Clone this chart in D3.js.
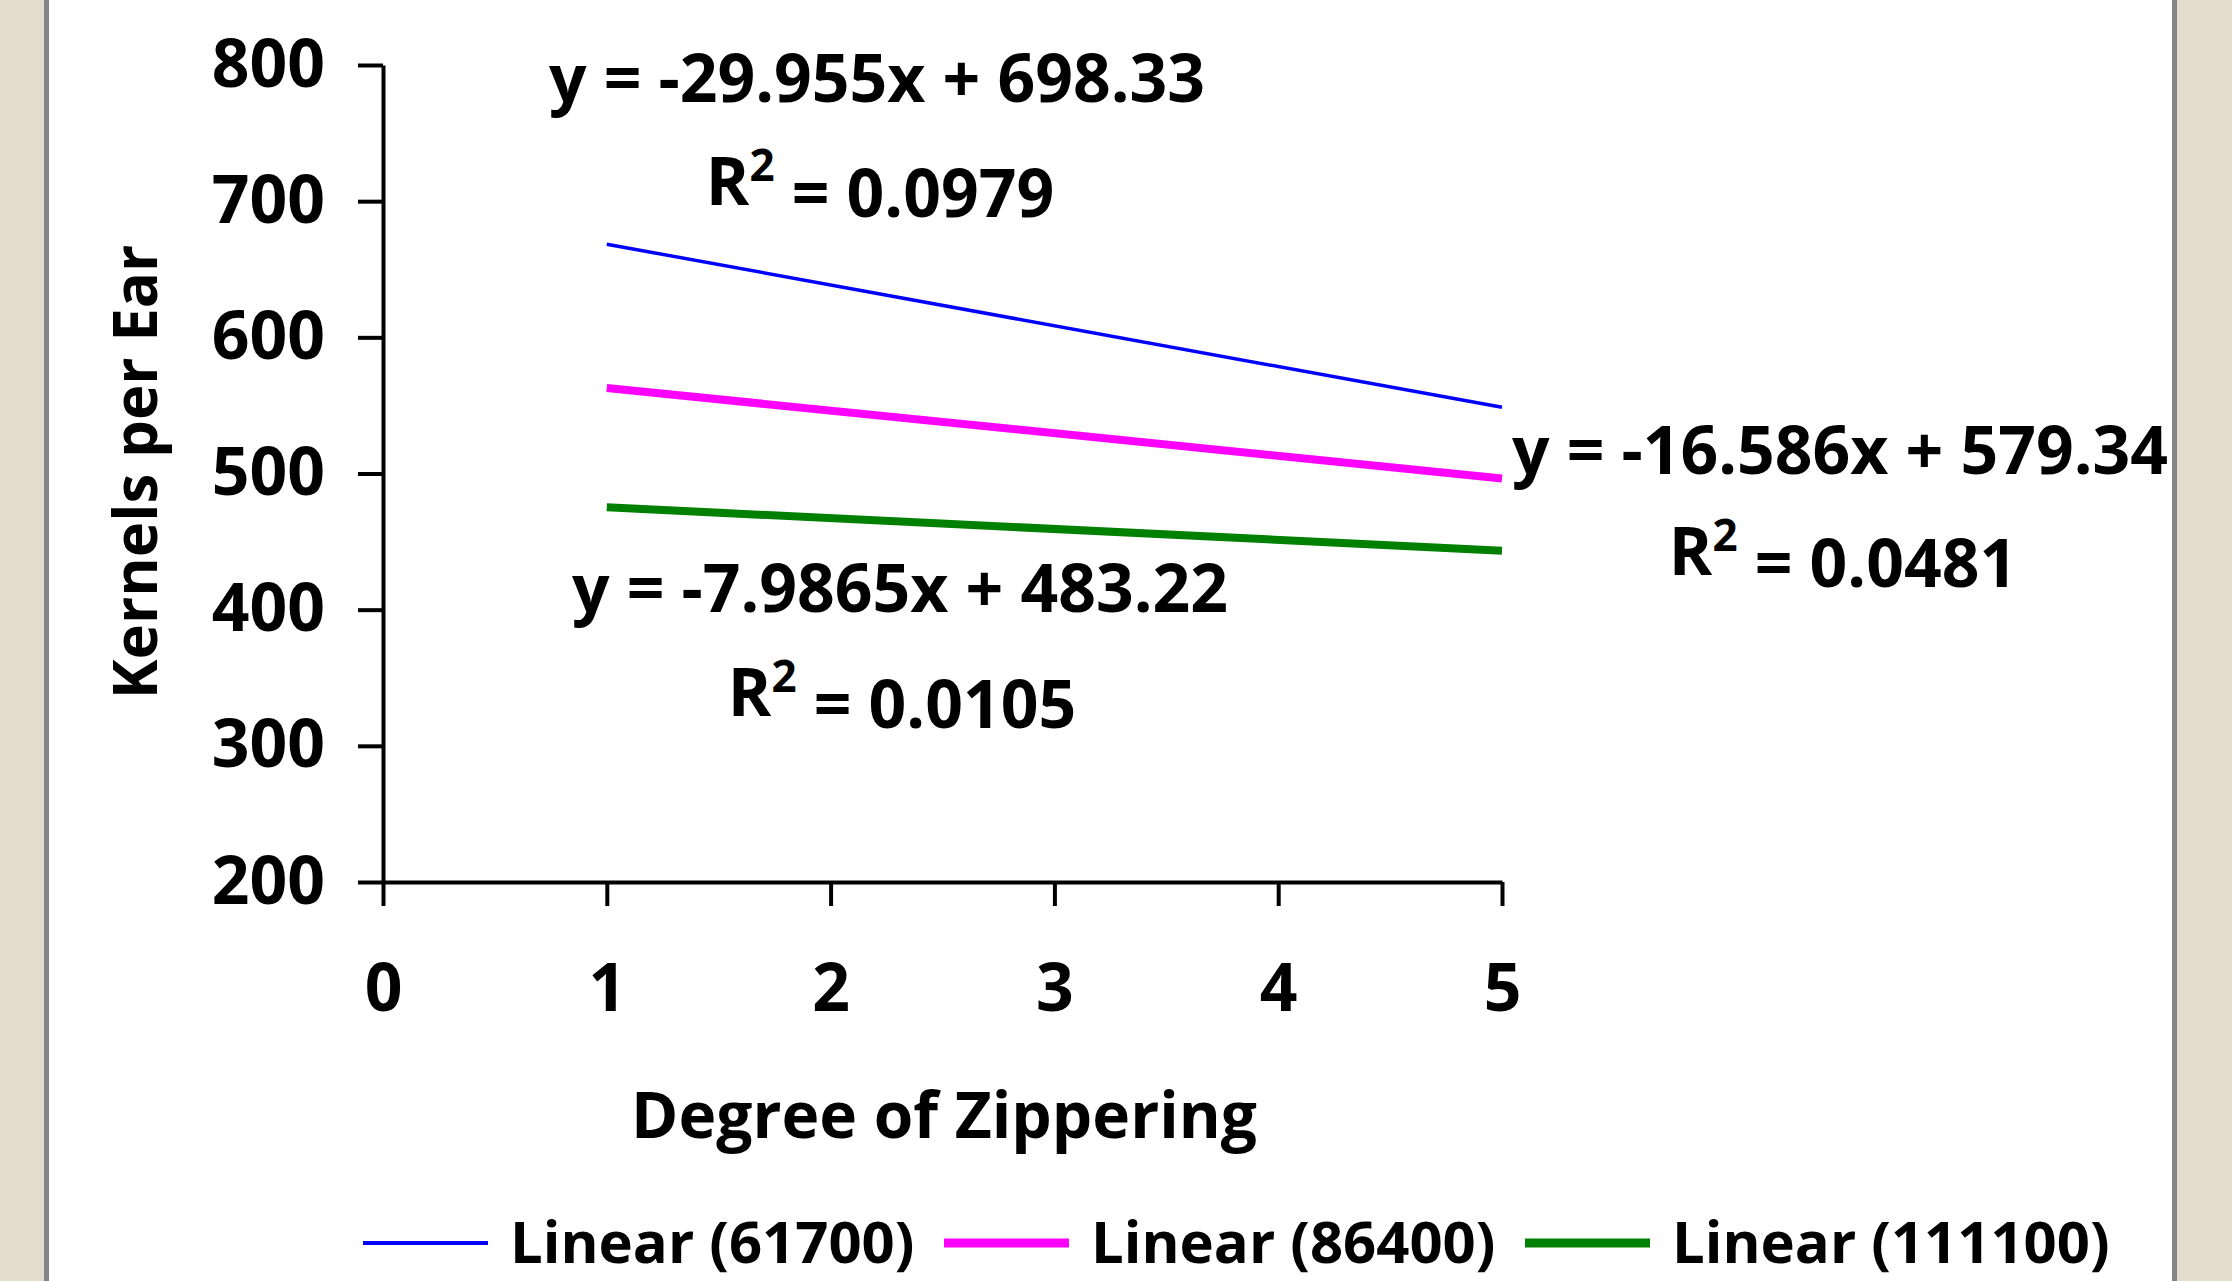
<!DOCTYPE html>
<html>
<head>
<meta charset="utf-8">
<script src="https://cdn.jsdelivr.net/npm/d3@7"></script>
<style>
  body { margin: 0; background: #ffffff; }
  text { font-family: "Open Sans", sans-serif; font-weight: bold; fill: #000; }
</style>
</head>
<body>
<script>
// chart data
var seriesNames = ["Linear (61700)", "Linear (86400)", "Linear (111100)"];
var seriesColors = ["#0000ff", "#ff00ff", "#008000"];
var trendX = [1, 5];
var blueValues = [668.4, 548.6];
var magentaValues = [562.8, 496.4];
var greenValues = [475.2, 443.3];
var equations = ["y = -29.955x + 698.33", "y = -16.586x + 579.34", "y = -7.9865x + 483.22"];
var rSquared = ["0.0979", "0.0481", "0.0105"];
var xTicks = [0, 1, 2, 3, 4, 5];
var yTicks = [200, 300, 400, 500, 600, 700, 800];

var w = 2232, h = 1281;

var svg = d3.select("body").append("svg")
    .attr("width", w)
    .attr("height", h)
    .attr("class", "container");

// beige side strips with grey frame lines
svg.append("rect").attr("x", 0).attr("y", 0).attr("width", 45).attr("height", h).style("fill", "#e4dccf");
svg.append("rect").attr("x", 44).attr("y", 0).attr("width", 5).attr("height", h).style("fill", "#858585");
svg.append("rect").attr("x", 2177).attr("y", 0).attr("width", 55).attr("height", h).style("fill", "#e4dccf");
svg.append("rect").attr("x", 2172).attr("y", 0).attr("width", 5).attr("height", h).style("fill", "#858585");

var x = d3.scaleLinear().domain([0, 5]).range([383, 1502]);
var y = d3.scaleLinear().domain([200, 800]).range([882, 65]);

// axes
var yAxis = svg.append("g")
    .attr("class", "y-axis")
    .attr("transform", "translate(" + x(0) + ",0)")
    .call(d3.axisLeft(y).tickValues(yTicks).tickSize(25).tickSizeOuter(0).tickPadding(33));

var xAxis = svg.append("g")
    .attr("class", "x-axis")
    .attr("transform", "translate(0," + y(200) + ")")
    .call(d3.axisBottom(x).tickValues(xTicks).tickFormat(d3.format("d")).tickSize(24).tickSizeOuter(0).tickPadding(58));

svg.selectAll(".domain, .tick line").style("stroke", "#000").style("stroke-width", 4);
svg.selectAll(".tick text").style("font-size", "66px").style("font-family", "'Open Sans', sans-serif").style("font-weight", "bold");

// trend lines
var line = d3.line()
    .x(function(d){ return x(d[0]); })
    .y(function(d){ return y(d[1]); });

var allValues = [blueValues, magentaValues, greenValues];
var widths = [3.5, 8, 8];

allValues.forEach(function(vals, i){
    svg.append("path")
        .datum(trendX.map(function(t, j){ return [t, vals[j]]; }))
        .attr("class", "trend")
        .attr("d", line)
        .style("fill", "none")
        .style("stroke", seriesColors[i])
        .style("stroke-width", widths[i]);
});

// equation labels
var eqPos = [[877, 78, 880, 181], [1840, 450, 1843, 551], [900, 588, 902, 692]];
equations.forEach(function(eq, i){
    svg.append("text")
        .attr("x", eqPos[i][0]).attr("y", eqPos[i][1])
        .attr("dy", "0.36em")
        .attr("text-anchor", "middle")
        .style("font-size", "66px")
        .text(eq);
    var r = svg.append("text")
        .attr("x", eqPos[i][2]).attr("y", eqPos[i][3])
        .attr("dy", "0.36em")
        .attr("text-anchor", "middle")
        .style("font-size", "66px");
    r.append("tspan").text("R");
    r.append("tspan").attr("dy", "-0.55em").style("font-size", "44px").text("2");
    r.append("tspan").attr("dy", "0.55em").text(" = " + rSquared[i]);
});

// axis titles
svg.append("text")
    .attr("transform", "translate(135,472) rotate(-90)")
    .attr("dy", "0.36em")
    .attr("text-anchor", "middle")
    .style("font-size", "60px")
    .text("Kernels per Ear");

svg.append("text")
    .attr("x", 944).attr("y", 1115)
    .attr("dy", "0.36em")
    .attr("text-anchor", "middle")
    .style("font-size", "64px")
    .text("Degree of Zippering");

// legend
var legX = [363, 944, 1525];
var legW = [4, 9, 9];
var legY = 1243;
seriesNames.forEach(function(name, i){
    svg.append("line")
        .attr("x1", legX[i]).attr("x2", legX[i] + 125)
        .attr("y1", legY).attr("y2", legY)
        .style("stroke", seriesColors[i])
        .style("stroke-width", legW[i]);
    svg.append("text")
        .attr("x", legX[i] + 147).attr("y", legY)
        .attr("dy", "0.34em")
        .style("font-size", "58px")
        .text(name);
});
</script>
</body>
</html>
